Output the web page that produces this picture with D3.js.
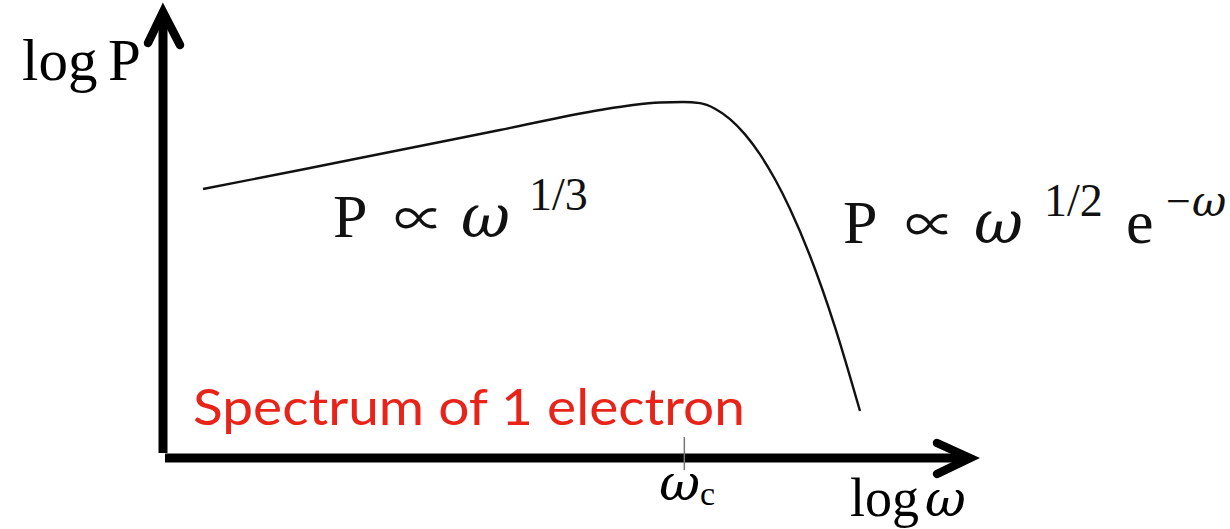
<!DOCTYPE html>
<html>
<head>
<meta charset="utf-8">
<script src="https://cdn.jsdelivr.net/npm/d3@7"></script>
<style>
  html, body { margin: 0; padding: 0; background: #fff; }
  svg { display: block; }
</style>
</head>
<body>
<svg id="chart" width="1230" height="529"></svg>
<script>
// Single-electron synchrotron spectrum, sketched on log–log axes (arbitrary units)
const logOmega = [0.496, 1.698, 2.937, 4.176, 5.415, 5.824, 6.159, 6.444, 6.654, 6.840, 7.026, 7.212, 7.398, 7.584, 7.770, 8.018, 8.327, 8.637];
const logPower = [6.031, 6.457, 6.906, 7.354, 7.803, 7.915, 7.971, 7.982, 7.957, 7.832, 7.599, 7.256, 6.807, 6.249, 5.583, 4.529, 2.937, 1.054];
const criticalTick = [6.46];
const criticalLabel = ["ω", "c"];

const svg = d3.select("#chart");

const x = d3.scaleLinear().domain([0, 10]).range([163, 970]);
const y = d3.scaleLinear().domain([0, 10]).range([458, 12]);

const serif = "'Liberation Serif', 'DejaVu Serif', serif";
const greek = "'DejaVu Serif', serif";
const symbol = "'Noto Sans CJK JP', 'DejaVu Sans', sans-serif";

// Spectrum curve
const pts = logOmega.map((d, i) => [d, logPower[i]]);
svg.append("path")
  .datum(pts)
  .attr("fill", "none")
  .attr("stroke", "#111")
  .attr("stroke-width", 2.4)
  .attr("d", d3.line().x(d => x(d[0])).y(d => y(d[1])).curve(d3.curveMonotoneX));

// Axes with open arrowheads
const axisG = svg.append("g").attr("stroke", "#000").attr("fill", "none");
axisG.append("line")
  .attr("x1", x(0)).attr("y1", y(0) - 5)
  .attr("x2", x(0)).attr("y2", y(10) + 3)
  .attr("stroke-width", 9);
axisG.append("line")
  .attr("x1", x(0) + 2).attr("y1", y(0))
  .attr("x2", x(10) - 3).attr("y2", y(0))
  .attr("stroke-width", 9);
// y arrowhead
axisG.append("path")
  .attr("d", `M${x(0) - 15},${y(10) + 31} L${x(0)},${y(10)} L${x(0) + 17},${y(10) + 33}`)
  .attr("stroke-width", 8.5).attr("stroke-linecap", "round").attr("stroke-linejoin", "miter");
// x arrowhead
axisG.append("path")
  .attr("d", `M${x(10) - 33},${y(0) - 15} L${x(10)},${y(0)} L${x(10) - 33},${y(0) + 16}`)
  .attr("stroke-width", 8.5).attr("stroke-linecap", "round").attr("stroke-linejoin", "miter");

// Critical frequency tick
svg.selectAll(".crit").data(criticalTick).enter().append("line")
  .attr("class", "crit")
  .attr("x1", d => x(d)).attr("x2", d => x(d))
  .attr("y1", y(0) - 21).attr("y2", y(0) + 12)
  .attr("stroke", "#777").attr("stroke-width", 1.5);

const critText = svg.append("text")
  .attr("x", x(criticalTick[0]) - 25).attr("y", 500)
  .attr("font-family", serif).attr("font-size", 50);
critText.append("tspan").attr("font-family", greek).attr("font-style", "italic").text(criticalLabel[0]);
critText.append("tspan").attr("font-size", 34).attr("dy", 5).text(criticalLabel[1]);

// Axis titles
const yTitle = svg.append("text").attr("y", 80)
  .attr("font-family", serif).attr("font-size", 59);
yTitle.append("tspan").attr("x", 22).text("log");
yTitle.append("tspan").attr("x", 108).text("P");

const xTitle = svg.append("text").attr("y", 516)
  .attr("font-family", serif).attr("font-size", 54);
xTitle.append("tspan").attr("x", 850).text("log");
xTitle.append("tspan").attr("x", 925).attr("font-family", greek).attr("font-style", "italic").attr("font-size", 50).text("ω");

// Power-law annotations
function mathLabel(base, parts) {
  const t = svg.append("text").attr("y", base)
    .attr("font-family", serif).attr("font-size", 62).attr("fill", "#111");
  parts.forEach(p => {
    const s = t.append("tspan").attr("x", p.x).attr("y", base + (p.dy || 0)).text(p.t);
    if (p.it) s.attr("font-style", "italic");
    if (p.fs) s.attr("font-size", p.fs);
    if (p.ff) s.attr("font-family", p.ff);
  });
}
mathLabel(237, [
  { x: 333, t: "P" },
  { x: 394, t: "∝", fs: 50, ff: symbol },
  { x: 461, t: "ω", it: true, ff: greek, fs: 60 },
  { x: 529, t: "1/3", fs: 46, dy: -27 }
]);
mathLabel(243, [
  { x: 843, t: "P" },
  { x: 905, t: "∝", fs: 50, ff: symbol },
  { x: 974, t: "ω", it: true, ff: greek, fs: 60 },
  { x: 1044, t: "1/2", fs: 46, dy: -27 },
  { x: 1126, t: "e" },
  { x: 1166, t: "−", fs: 44, dy: -27 },
  { x: 1192, t: "ω", fs: 42, it: true, ff: greek, dy: -27 }
]);

// Caption
svg.append("text").attr("x", 193).attr("y", 425)
  .attr("font-family", "Lato, 'Open Sans', sans-serif")
  .attr("font-size", 51).attr("fill", "#e8241a")
  .attr("textLength", 552).attr("lengthAdjust", "spacingAndGlyphs")
  .text("Spectrum of 1 electron");
</script>
</body>
</html>
